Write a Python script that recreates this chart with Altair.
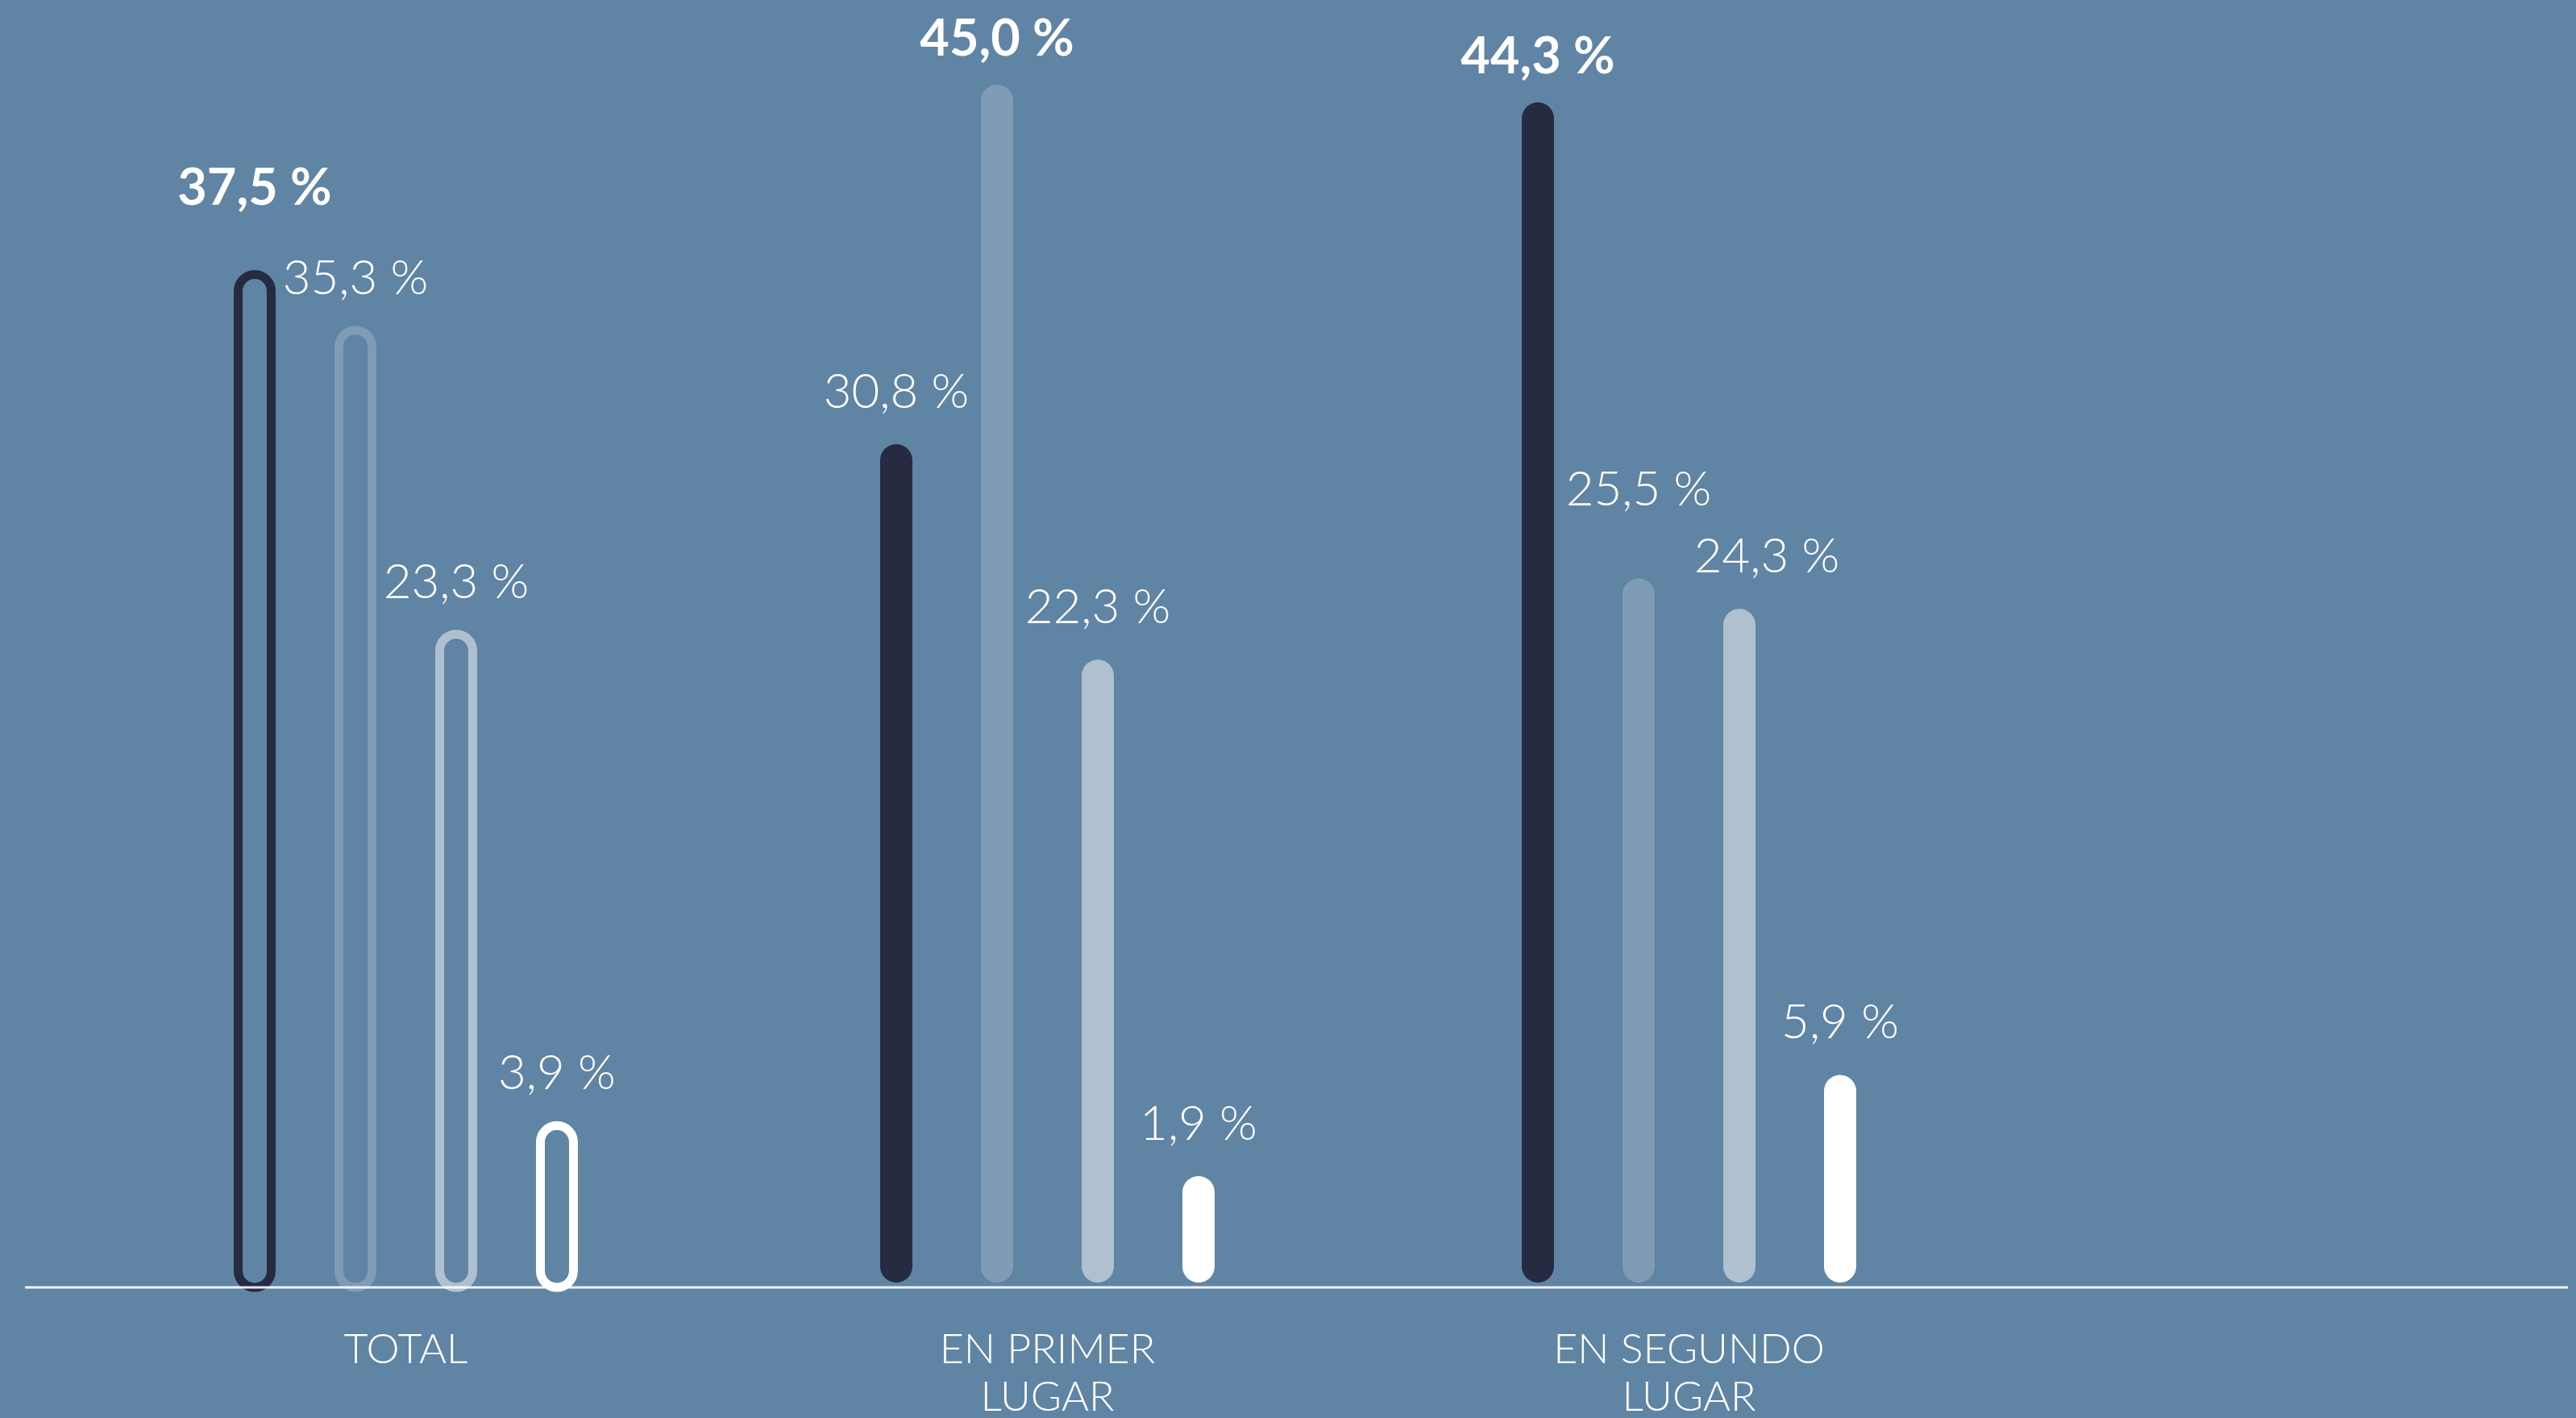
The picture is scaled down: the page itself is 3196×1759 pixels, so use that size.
import altair as alt
import pandas as pd

# ---- data ----
groups = ["TOTAL", "EN PRIMER LUGAR", "EN SEGUNDO LUGAR"]
series = ["A", "B", "C", "D"]
total_vals = [37.5, 35.3, 23.3, 3.9]
primer_vals = [30.8, 45.0, 22.3, 1.9]
segundo_vals = [44.3, 25.5, 24.3, 5.9]
series_colors = ["#262b42", "#7f9bb5", "#afc1d0", "#ffffff"]

rows = []
for g, vals in zip(groups, [total_vals, primer_vals, segundo_vals]):
    top = max(vals)
    for s, v in zip(series, vals):
        rows.append({
            "group": g,
            "series": s,
            "value": v,
            "label": f"{v:.1f}".replace(".", ",") + " %",
            "is_max": v == top,
        })
df = pd.DataFrame(rows)

# ---- styling ----
BG = "#6084a3"
FONT = "Lato"
LIGHT_DY = -45
BOLD_DY = -36
# hand-placed label nudges in the original (dx, dy in px), keyed by (group, series)
LABEL_NUDGES = {
    ("TOTAL", "A"): (0, -51),
    ("EN SEGUNDO LUGAR", "B"): (0, -46),
    ("EN SEGUNDO LUGAR", "C"): (34, 0),
}
df["nudge"] = [f"{g}|{s}" for g, s in zip(df["group"], df["series"])]
nudge_keys = [f"{g}|{s}" for g, s in LABEL_NUDGES]

x_enc = alt.X(
    "group:N",
    sort=groups,
    scale=alt.Scale(paddingInner=0.3719, paddingOuter=0.2795),
    axis=alt.Axis(
        title=None, domain=False, ticks=False, labelAngle=0, labelLimit=0,
        labelColor="white", labelFont=FONT, labelFontWeight=300,
        labelFontSize=52, labelLineHeight=59, labelPadding=52,
        labelExpr="split(replace(datum.label, ' LUGAR', '|LUGAR'), '|')",
    ),
)
xo_enc = alt.XOffset("series:N", sort=series,
                     scale=alt.Scale(paddingInner=0, paddingOuter=0))
y_scale = alt.Scale(domain=[-2.489, 48.34], nice=False, zero=False)
y_enc = alt.Y("value:Q", scale=y_scale, axis=None)
color_enc = alt.Color("series:N", sort=series,
                      scale=alt.Scale(domain=series, range=series_colors),
                      legend=None)

base = alt.Chart(df)

filled = base.transform_filter(alt.datum.group != "TOTAL").mark_bar(
    width=40, cornerRadius=20
).encode(x=x_enc, xOffset=xo_enc, y=y_enc, y2=alt.datum(-2.298), color=color_enc)

outlined = base.transform_filter(alt.datum.group == "TOTAL").mark_bar(
    width=41, cornerRadius=20.5, filled=False, strokeWidth=11
).encode(x=x_enc, xOffset=xo_enc, y=y_enc, y2=alt.datum(-2.489), color=color_enc)


def text_layer(bold, dx=0, dy=0, key=None):
    src = base.transform_filter(alt.datum.is_max == bold)
    if key is None:
        src = src.transform_filter(
            {"not": alt.FieldOneOfPredicate(field="nudge", oneOf=nudge_keys)})
    else:
        src = src.transform_filter(alt.datum.nudge == key)
    return src.mark_text(
        font=FONT, fontWeight="bold" if bold else 300,
        fontSize=63 if bold else 60, color="white",
        baseline="alphabetic", align="center", dx=dx,
        dy=(BOLD_DY if bold else LIGHT_DY) + dy,
    ).encode(x=x_enc, xOffset=xo_enc, y=y_enc, text="label:N")


layers = [filled, outlined, text_layer(False), text_layer(True)]
for (g, s), (ndx, ndy) in LABEL_NUDGES.items():
    is_bold = bool(df[(df.group == g) & (df.series == s)]["is_max"].iloc[0])
    layers.append(text_layer(is_bold, ndx, ndy, key=f"{g}|{s}"))

baseline = alt.Chart(pd.DataFrame({"k": [0]})).mark_rule(
    color="white", opacity=0.9, strokeWidth=3
).encode(x=alt.value(0), x2=alt.value(3155), y=alt.value(1597))
layers.append(baseline)

chart = alt.layer(*layers).properties(
    width=2537,
    height=1597,
    autosize=alt.AutoSizeParams(type="none"),
    padding={"left": 31, "right": 628, "top": 0, "bottom": 162},
    background=BG,
).configure_view(stroke=None)

chart.save("out.html", embed_options={"renderer": "svg", "actions": False})
